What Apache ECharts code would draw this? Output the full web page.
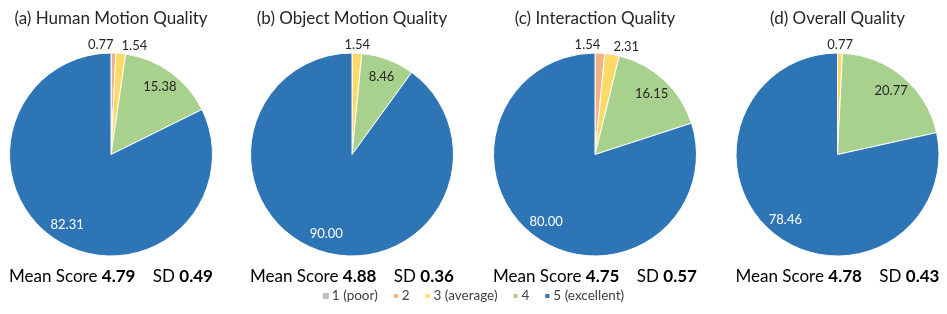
<!DOCTYPE html>
<html>
<head>
<meta charset="utf-8">
<script src="https://cdn.jsdelivr.net/npm/echarts@6/dist/echarts.min.js"></script>
<style>
html,body{margin:0;padding:0;background:#fff;}
#chart{width:947px;height:314px;}
</style>
</head>
<body>
<div id="chart"></div>
<script>
// ---- data ----
const categories = ['1 (poor)', '2', '3 (average)', '4', '5 (excellent)'];
const panelTitles = ['(a) Human Motion Quality', '(b) Object Motion Quality', '(c) Interaction Quality', '(d) Overall Quality'];
const humanMotion = [0, 0.77, 1.54, 15.38, 82.31];
const objectMotion = [0, 0, 1.54, 8.46, 90.00];
const interaction = [0, 1.54, 2.31, 16.15, 80.00];
const overall = [0, 0, 0.77, 20.77, 78.46];
const meanScores = ['4.79', '4.88', '4.75', '4.78'];
const sdValues = ['0.49', '0.36', '0.57', '0.43'];

// ---- style ----
const palette = ['#BFBFBF', '#F4B183', '#FFD966', '#A9D18E', '#2E75B6'];
const panels = [humanMotion, objectMotion, interaction, overall];
const centersX = [111, 352, 595, 837.5];
const centerY = 154.5;
const R = 101.5;
const FONT = 'Lato';
const textColor = '#262626';

const chart = echarts.init(document.getElementById('chart'));

const series = [];
const titles = [];
panels.forEach((vals, p) => {
  const small = [];
  vals.forEach((v, i) => { if (v > 0 && v < 5) small.push(i); });
  // main pie (colors + outside labels for thin slices)
  series.push({
    type: 'pie',
    center: [centersX[p], centerY],
    radius: [0, R],
    startAngle: 90,
    clockwise: true,
    avoidLabelOverlap: false,
    animation: false,
    labelLine: { show: false, length: 8, length2: 0 },
    label: {
      position: 'outside', distanceToLabelLine: 0,
      fontFamily: FONT, fontSize: 13, color: textColor,
      formatter: (d) => d.value.toFixed(2)
    },
    labelLayout: (params) => {
      const k = small.indexOf(params.dataIndex);
      if (k < 0) return {};
      let align = 'center';
      if (small.length > 1) align = (k === 0) ? 'right' : 'left';
      return { align: align };
    },
    emphasis: { disabled: true },
    data: vals.map((v, i) => ({
      name: categories[i],
      value: v,
      itemStyle: { color: palette[i], borderColor: '#fff', borderWidth: v > 0 ? 1 : 0 },
      label: { show: v > 0 && v < 5 }
    }))
  });
  // label overlay for large slices
  series.push({
    type: 'pie',
    center: [centersX[p], centerY],
    radius: [R * 0.58, R],
    startAngle: 90,
    clockwise: true,
    silent: true,
    animation: false,
    legendHoverLink: false,
    avoidLabelOverlap: false,
    itemStyle: { color: 'rgba(0,0,0,0)', borderWidth: 0 },
    labelLine: { show: false },
    label: {
      position: 'inside', fontFamily: FONT, fontSize: 13,
      formatter: (d) => d.value.toFixed(2)
    },
    emphasis: { disabled: true },
    data: vals.map((v, i) => ({
      name: categories[i],
      value: v,
      itemStyle: { color: 'rgba(0,0,0,0)' },
      label: { show: v >= 5, color: i === 4 ? '#ffffff' : textColor }
    }))
  });
  titles.push({
    text: panelTitles[p],
    left: centersX[p], top: 19,
    textAlign: 'center', textVerticalAlign: 'middle',
    padding: 0,
    textStyle: { fontFamily: FONT, fontSize: 17, fontWeight: 'normal', color: textColor }
  });
  titles.push({
    text: '{n|Mean Score }{b|' + meanScores[p] + '}{n|    SD }{b|' + sdValues[p] + '}',
    left: centersX[p], top: 277,
    textAlign: 'center', textVerticalAlign: 'middle',
    padding: 0,
    textStyle: {
      fontFamily: FONT, fontSize: 17, fontWeight: 'normal', color: '#000',
      rich: {
        n: { fontFamily: FONT, fontSize: 17, fontWeight: 'normal', color: '#000' },
        b: { fontFamily: FONT, fontSize: 17, fontWeight: 'bold', color: '#000' }
      }
    }
  });
});

chart.setOption({
  backgroundColor: '#fff',
  animation: false,
  title: titles,
  legend: {
    bottom: 6, left: 'center',
    icon: 'rect', itemWidth: 6, itemHeight: 6, itemGap: 14,
    textStyle: { fontFamily: FONT, fontSize: 13.5, color: '#404040', padding: [0, 0, 0, -2] },
    selectedMode: false,
    data: categories.map((c, i) => ({ name: c, itemStyle: { color: palette[i] } }))
  },
  series: series
});
</script>
</body>
</html>
